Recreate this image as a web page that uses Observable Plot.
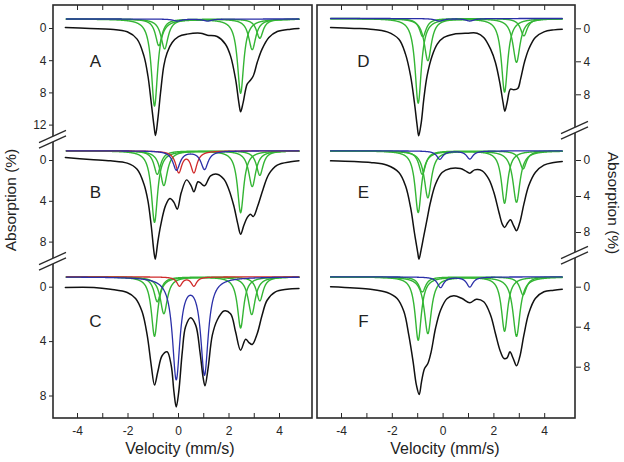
<!DOCTYPE html>
<html><head><meta charset="utf-8">
<script src="https://cdn.jsdelivr.net/npm/d3@7"></script>
<script src="https://cdn.jsdelivr.net/npm/@observablehq/plot@0.6"></script>
<style>
body{margin:0;background:#fff;}
#chart{position:relative;width:624px;height:462px;background:#fff;font-family:"Liberation Sans",Arial,sans-serif;overflow:hidden}
.p{position:absolute}
.t{position:absolute;font-size:16px;line-height:18px;color:#222;white-space:nowrap;transform:translate(-50%,-50%)}
</style></head><body><div id="chart"></div>
<script>
// ---------- data ----------
const xTicks = [-4,-3,-2,-1,0,1,2,3,4];
const xLabels = [-4,-2,0,2,4];
const yTicksA = [0,4,8,12];
const yTicks = [0,4,8];

// measured spectra (velocity mm/s, absorption %)
const A_vel = [-4.48,-3.5,-2.7,-2.03,-1.64,-1.37,-1.21,-1.08,-0.97,-0.91,-0.82,-0.71,-0.58,-0.45,-0.25,0.0,0.34,0.87,1.14,1.53,1.86,2.06,2.26,2.39,2.46,2.56,2.72,2.83,2.96,3.12,3.31,3.58,3.91,4.44,4.77];
const A_abs = [-0.12,0.0,0.08,0.41,1.32,3.4,5.9,9.2,12.1,13.3,11.3,7.95,4.6,3.0,1.74,1.0,0.7,0.58,0.83,1.0,1.95,3.4,6.3,9.2,10.35,9.2,6.9,6.5,5.9,4.2,2.57,1.12,0.37,0.08,0.0];
const B_vel = [-4.48,-3.5,-2.69,-2.03,-1.64,-1.37,-1.21,-1.08,-0.97,-0.92,-0.82,-0.71,-0.51,-0.34,-0.18,-0.05,0.11,0.32,0.5,0.61,0.77,0.87,1.03,1.27,1.53,1.8,1.99,2.19,2.35,2.46,2.59,2.72,2.85,2.96,3.14,3.35,3.58,3.91,4.44,4.77];
const B_abs = [-0.29,-0.1,0.03,0.26,0.85,2.3,3.95,6.4,9.0,9.67,8.0,6.4,4.4,3.73,4.1,4.77,3.14,1.9,2.48,3.07,2.09,2.2,2.48,1.5,1.34,1.83,2.81,4.44,6.24,7.22,6.34,5.6,5.26,5.5,4.44,2.81,1.34,0.46,0.13,0.03];
const C_vel = [-4.48,-3.35,-2.69,-2.03,-1.7,-1.44,-1.24,-1.08,-0.95,-0.82,-0.65,-0.45,-0.29,-0.18,-0.09,0.01,0.15,0.28,0.48,0.68,0.85,0.98,1.05,1.17,1.34,1.53,1.8,2.06,2.26,2.46,2.66,2.79,2.92,3.12,3.31,3.51,3.84,4.3,4.77];
const C_abs = [0.02,0.02,0.15,0.39,0.83,1.81,3.53,5.74,7.2,6.22,5.04,4.75,5.74,7.69,8.8,7.69,4.75,2.91,2.25,2.79,4.75,6.71,7.25,5.98,3.53,2.43,1.75,1.95,3.28,4.63,3.82,4.07,4.21,3.4,2.06,0.96,0.34,0.15,0.1];
const D_vel = [-4.43,-3.5,-2.86,-2.2,-1.74,-1.48,-1.28,-1.13,-1.02,-0.96,-0.86,-0.76,-0.63,-0.43,-0.23,0.03,0.42,0.95,1.34,1.6,1.87,2.06,2.23,2.36,2.43,2.52,2.65,2.78,2.94,3.05,3.2,3.37,3.63,3.97,4.36,4.69];
const D_abs = [-0.16,-0.05,0.04,0.37,1.26,3.07,5.7,8.93,11.76,12.97,11.36,8.53,5.7,3.27,1.86,1.05,0.65,0.53,0.53,1.05,2.47,4.08,6.5,8.93,9.98,8.93,7.32,7.4,7.24,6.1,4.08,2.47,1.05,0.37,0.13,0.05];
const E_vel = [-4.43,-3.5,-2.86,-2.2,-1.74,-1.48,-1.28,-1.13,-1.0,-0.95,-0.86,-0.76,-0.63,-0.5,-0.3,-0.04,0.29,0.68,0.88,1.05,1.24,1.54,1.8,2.0,2.2,2.33,2.42,2.55,2.65,2.78,2.89,3.02,3.18,3.37,3.63,3.97,4.36,4.69];
const E_abs = [0.04,0.12,0.22,0.52,1.33,2.81,5.22,8.0,10.2,10.96,9.85,8.37,6.52,4.67,2.63,1.33,0.89,0.89,1.15,1.41,1.04,1.15,2.07,3.56,5.78,7.07,7.44,6.89,6.59,7.26,7.81,6.89,4.85,2.81,1.33,0.52,0.22,0.11];
const F_vel = [-4.43,-3.5,-2.86,-2.2,-1.81,-1.54,-1.35,-1.18,-1.05,-0.94,-0.85,-0.73,-0.6,-0.47,-0.3,-0.1,0.16,0.42,0.75,1.05,1.31,1.6,1.87,2.06,2.26,2.4,2.52,2.63,2.76,2.89,3.02,3.18,3.37,3.63,3.97,4.36,4.69];
const F_abs = [-0.04,0.08,0.2,0.53,1.13,2.46,4.8,7.46,9.8,10.73,9.46,8.13,7.63,6.46,4.13,2.3,1.13,0.86,1.13,1.56,1.2,1.46,2.8,4.63,6.46,7.13,7.06,6.46,7.13,7.86,6.96,4.8,2.63,1.13,0.46,0.3,0.2];

// fitted doublets: [centre1, depth1, centre2, depth2, half-width]; baseline level of the sub-spectra
const A_base = -1.18;
const A_green = [[-0.95,10.8,2.46,9.2,0.15],[-0.78,3.3,3.22,2.4,0.16],[-0.55,3.7,2.92,3.8,0.17]];
const A_blue = [[-0.05,0.25,1.15,0.25,0.2]];
const B_base = -0.95;
const B_green = [[-0.95,7.0,2.46,6.05,0.15],[-0.84,2.3,3.22,2.4,0.16],[-0.58,3.4,2.92,3.5,0.17]];
const B_red = [[0.01,2.05,0.61,2.05,0.15]];
const B_blue = [[-0.08,1.87,1.03,1.8,0.17]];
const C_base = -0.76;
const C_green = [[-0.95,4.36,2.46,3.75,0.15],[-0.84,1.83,3.22,1.76,0.16],[-0.58,2.7,2.9,2.77,0.17]];
const C_red = [[0.04,0.66,0.61,0.66,0.13]];
const C_blue = [[-0.09,7.4,1.03,7.05,0.18]];
const D_base = -1.25;
const D_green = [[-0.98,10.25,2.42,8.9,0.15],[-0.8,2.2,3.18,2.1,0.16],[-0.6,5.1,2.89,5.3,0.17]];
const D_blue = [[-0.15,0.3,1.05,0.3,0.2]];
const E_base = -1.07;
const E_green = [[-0.98,6.85,2.42,5.8,0.15],[-0.82,2.6,3.15,2.0,0.16],[-0.6,5.2,2.89,5.7,0.17]];
const E_blue = [[-0.13,0.92,1.05,0.9,0.15]];
const F_base = -1.03;
const F_green = [[-0.98,6.33,2.42,5.43,0.15],[-0.82,1.5,3.15,1.8,0.16],[-0.6,5.66,2.89,5.93,0.17]];
const F_blue = [[-0.1,1.06,1.05,1.0,0.15]];

// ---------- layout ----------
const colL = {x0:53, x1:312, zero:178, ppv:25.25, vmin:-4.44, vmax:4.77, left:true};
const colR = {x0:317, x1:575, zero:442.6, ppv:25.4, vmin:-4.43, vmax:4.69, left:false};
const panels = [
  {letter:"A", col:colL, top:5, bottom:139, zeroY:28, ppu:8.05, yt:yTicksA, vel:A_vel, abs:A_abs, green:A_green, red:[], blue:A_blue, base:A_base, topTicks:true, bottomAxis:false, ldx:42, ldy:56},
  {letter:"B", col:colL, top:139, bottom:261, zeroY:160, ppu:10.2, yt:yTicks, vel:B_vel, abs:B_abs, green:B_green, red:B_red, blue:B_blue, base:B_base, topTicks:false, bottomAxis:false, ldx:42, ldy:53.5},
  {letter:"C", col:colL, top:261, bottom:418, zeroY:286.7, ppu:13.6, yt:yTicks, vel:C_vel, abs:C_abs, green:C_green, red:C_red, blue:C_blue, base:C_base, topTicks:false, bottomAxis:true, ldx:42, ldy:60},
  {letter:"D", col:colR, top:5, bottom:130, zeroY:28.3, ppu:8.25, yt:yTicks, vel:D_vel, abs:D_abs, green:D_green, red:[], blue:D_blue, base:D_base, topTicks:true, bottomAxis:false, ldx:46, ldy:56},
  {letter:"E", col:colR, top:130, bottom:255, zeroY:160, ppu:9, yt:yTicks, vel:E_vel, abs:E_abs, green:E_green, red:[], blue:E_blue, base:E_base, topTicks:false, bottomAxis:false, ldx:46, ldy:62.5},
  {letter:"F", col:colR, top:255, bottom:418, zeroY:286.7, ppu:10, yt:yTicks, vel:F_vel, abs:F_abs, green:F_green, red:[], blue:F_blue, base:F_base, topTicks:false, bottomAxis:true, ldx:46, ldy:66}
];

const GREEN = "#34b534", BLUE = "#2a2fa8", RED = "#d02a2a", INK = "#262626";
const chart = document.getElementById("chart");

function doublet(d, base, grid) {
  return grid.map(v => ({v, a: base + d[1]/(1+((v-d[0])/d[4])**2) + d[3]/(1+((v-d[2])/d[4])**2)}));
}

for (const p of panels) {
  const c = p.col;
  const mL = c.left ? 40 : 0, mR = c.left ? 0 : 40, mB = p.bottomAxis ? 26 : 0;
  const w = c.x1 - c.x0, h = p.bottom - p.top;
  const xd = [(c.x0 - c.zero)/c.ppv, (c.x1 - c.zero)/c.ppv];
  const yd = [(p.top - p.zeroY)/p.ppu, (p.bottom - p.zeroY)/p.ppu];
  const grid = d3.range(c.vmin, c.vmax + 1e-9, 0.01);
  const spec = p.vel.map((v, i) => ({v, a: p.abs[i]}));
  const marks = [];
  for (const g of p.green) marks.push(Plot.line(doublet(g, p.base, grid), {x:"v", y:"a", stroke:GREEN, strokeWidth:1.4}));
  for (const r of p.red) marks.push(Plot.line(doublet(r, p.base, grid), {x:"v", y:"a", stroke:RED, strokeWidth:1.3}));
  for (const b of p.blue) marks.push(Plot.line(doublet(b, p.base, grid), {x:"v", y:"a", stroke:BLUE, strokeWidth:1.3}));
  marks.push(Plot.line(spec, {x:"v", y:"a", stroke:"#111", strokeWidth:1.5, curve:"catmull-rom"}));
  marks.push(Plot.text([p.letter], {frameAnchor:"top-left", dx:p.ldx, dy:p.ldy, text:d=>d, fontSize:17, fill:"#222", textAnchor:"middle", lineAnchor:"middle"}));
  marks.push(Plot.axisY(p.yt, {anchor: c.left ? "left" : "right", label: null, tickSize: c.left ? 4 : 5, tickPadding: 3, fontSize: 12, tickFormat: d => String(d), stroke: INK, fill: INK}));
  if (p.topTicks) marks.push(Plot.ruleX(xTicks, {y1: yd[0], y2: yd[0] + 5/p.ppu, stroke: INK, strokeWidth: 1}));
  if (p.bottomAxis) {
    marks.push(Plot.ruleX(xTicks, {y1: yd[1], y2: yd[1] - 5/p.ppu, stroke: INK, strokeWidth: 1}));
    marks.push(Plot.axisX(xLabels, {anchor:"bottom", label: null, tickSize:0, tickPadding:8, fontSize:12, tickFormat: d => String(d), fill: INK}));
  }
  const svg = Plot.plot({
    width: w + mL + mR, height: h + mB,
    marginLeft: mL, marginRight: mR, marginTop: 0, marginBottom: mB,
    x: p.bottomAxis ? {domain: xd, label: null} : {domain: xd, axis: null, label: null},
    y: {domain: yd, reverse: true, label: null},
    style: {background: "transparent", overflow: "visible", fontFamily: '"Liberation Sans", Arial, sans-serif', color: INK},
    marks
  });
  svg.classList.add("p");
  svg.style.left = (c.x0 - mL) + "px";
  svg.style.top = p.top + "px";
  svg.style.maxWidth = "none";
  chart.appendChild(svg);
}

// frames and axis breaks
const NS = "http://www.w3.org/2000/svg";
const ov = document.createElementNS(NS, "svg");
ov.setAttribute("width", 624); ov.setAttribute("height", 462);
ov.setAttribute("class", "p"); ov.style.left = "0px"; ov.style.top = "0px";
function el(tag, attrs) { const e = document.createElementNS(NS, tag); for (const k in attrs) e.setAttribute(k, attrs[k]); ov.appendChild(e); return e; }
for (const c of [colL, colR]) el("rect", {x: c.x0, y: 5, width: c.x1 - c.x0, height: 413, fill: "none", stroke: "#2a2a2a", "stroke-width": 1.6});
const breaks = [[53,139],[53,261],[575,130],[575,255]];
for (const [bx, by] of breaks) {
  el("polygon", {points: `${bx-5},${by-2.75+2.25} ${bx+5},${by-2.75-2.25} ${bx+5},${by+2.75-2.25} ${bx-5},${by+2.75+2.25}`, fill: "#fff"});
  for (const o of [-2.75, 2.75]) el("line", {x1: bx-14, y1: by+o+6.3, x2: bx+13, y2: by+o-5.85, stroke: "#2a2a2a", "stroke-width": 1.3});
}
chart.appendChild(ov);

// axis titles
function title(txt, x, y, rot, size) {
  const d = document.createElement("div"); d.className = "t"; d.textContent = txt;
  d.style.left = x + "px"; d.style.top = y + "px"; d.style.fontSize = size + "px";
  if (rot) d.style.transform = `translate(-50%,-50%) rotate(${rot}deg)`;
  chart.appendChild(d);
}
title("Velocity (mm/s)", 180, 449, 0, 16);
title("Velocity (mm/s)", 445, 449, 0, 16);
title("Absorption (%)", 11, 200, -90, 15.5);
title("Absorption (%)", 613, 203, 90, 15.5);
</script></body></html>
